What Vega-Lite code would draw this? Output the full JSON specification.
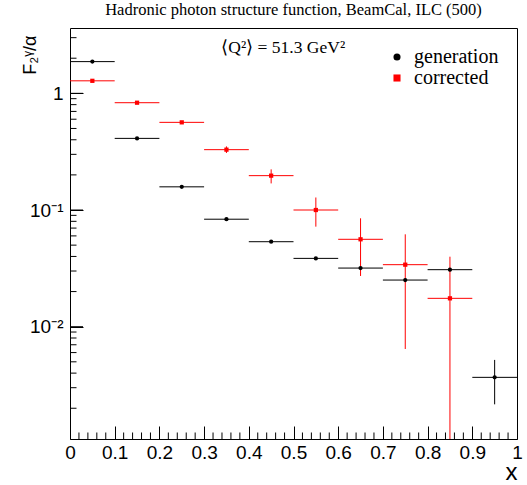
{
  "$schema": "https://vega.github.io/schema/vega-lite/v6.json",
  "width": 447,
  "height": 411,
  "autosize": {"type": "none"},
  "padding": {"left": 70, "top": 28, "right": 10, "bottom": 46},
  "background": "white",
  "config": {
    "view": {"stroke": "black", "strokeWidth": 1},
    "axis": {"grid": false, "domain": false, "ticks": true, "tickWidth": 1, "zindex": 1, "tickColor": "black", "labelColor": "black", "titleColor": "black", "labelOverlap": false, "labelFlush": false, "labelFont": "Liberation Sans", "labelFontSize": 19, "titleFont": "Liberation Sans", "titleFontWeight": "normal", "tickCount": 200}
  },
  "title": {
    "text": "Hadronic photon structure function, BeamCal, ILC (500)",
    "font": "Liberation Serif",
    "fontSize": 16.5,
    "fontWeight": "normal",
    "anchor": "middle",
    "offset": 10,
    "color": "black"
  },
  "resolve": {"axis": {"x": "independent", "y": "independent"}, "scale": {"x": "shared", "y": "shared"}},
  "data": {
    "values": [
      {"series": "generation", "x": 0.05, "xlo": 0.0, "xhi": 0.1, "y": 1.87, "ylo": 1.84, "yhi": 1.9},
      {"series": "generation", "x": 0.15, "xlo": 0.1, "xhi": 0.2, "y": 0.411, "ylo": 0.405, "yhi": 0.417},
      {"series": "generation", "x": 0.25, "xlo": 0.2, "xhi": 0.3, "y": 0.158, "ylo": 0.155, "yhi": 0.161},
      {"series": "generation", "x": 0.35, "xlo": 0.3, "xhi": 0.4, "y": 0.0834, "ylo": 0.0818, "yhi": 0.085},
      {"series": "generation", "x": 0.45, "xlo": 0.4, "xhi": 0.5, "y": 0.0535, "ylo": 0.0523, "yhi": 0.0547},
      {"series": "generation", "x": 0.55, "xlo": 0.5, "xhi": 0.6, "y": 0.0385, "ylo": 0.0375, "yhi": 0.0395},
      {"series": "generation", "x": 0.65, "xlo": 0.6, "xhi": 0.7, "y": 0.0318, "ylo": 0.0308, "yhi": 0.0328},
      {"series": "generation", "x": 0.75, "xlo": 0.7, "xhi": 0.8, "y": 0.0251, "ylo": 0.0242, "yhi": 0.026},
      {"series": "generation", "x": 0.85, "xlo": 0.8, "xhi": 0.9, "y": 0.0308, "ylo": 0.0297, "yhi": 0.0319},
      {"series": "generation", "x": 0.95, "xlo": 0.9, "xhi": 1.0, "y": 0.00368, "ylo": 0.00216, "yhi": 0.00519},
      {"series": "corrected", "x": 0.05, "xlo": 0.0, "xhi": 0.1, "y": 1.28, "ylo": 1.265, "yhi": 1.295},
      {"series": "corrected", "x": 0.15, "xlo": 0.1, "xhi": 0.2, "y": 0.831, "ylo": 0.82, "yhi": 0.842},
      {"series": "corrected", "x": 0.25, "xlo": 0.2, "xhi": 0.3, "y": 0.564, "ylo": 0.555, "yhi": 0.573},
      {"series": "corrected", "x": 0.35, "xlo": 0.3, "xhi": 0.4, "y": 0.329, "ylo": 0.308, "yhi": 0.351},
      {"series": "corrected", "x": 0.45, "xlo": 0.4, "xhi": 0.5, "y": 0.197, "ylo": 0.169, "yhi": 0.223},
      {"series": "corrected", "x": 0.55, "xlo": 0.5, "xhi": 0.6, "y": 0.1, "ylo": 0.072, "yhi": 0.128},
      {"series": "corrected", "x": 0.65, "xlo": 0.6, "xhi": 0.7, "y": 0.0561, "ylo": 0.0272, "yhi": 0.0849},
      {"series": "corrected", "x": 0.75, "xlo": 0.7, "xhi": 0.8, "y": 0.034, "ylo": 0.00644, "yhi": 0.0619},
      {"series": "corrected", "x": 0.85, "xlo": 0.8, "xhi": 0.9, "y": 0.0175, "ylo": 0.0001, "yhi": 0.0398}
    ]
  },
  "layer": [
    {
      "mark": {"type": "rule", "strokeWidth": 1, "clip": true},
      "encoding": {
        "x": {
          "field": "xlo",
          "type": "quantitative",
          "scale": {"domain": [0, 1], "nice": false, "zero": false},
          "axis": {
            "orient": "bottom",
            "values": [0, 0.1, 0.2, 0.3, 0.4, 0.5, 0.6, 0.7, 0.8, 0.9, 1],
            "tickSize": -13,
            "labelExpr": "format(datum.value, '.1~f')",
            "labelPadding": 17,
            "title": "x",
            "titleFontSize": 24,
            "titleAlign": "right",
            "titleBaseline": "alphabetic",
            "titleX": 447,
            "titleY": 40
          }
        },
        "x2": {"field": "xhi"},
        "y": {
          "field": "y",
          "type": "quantitative",
          "scale": {"type": "log", "domain": [0.00109, 3.63], "nice": false},
          "axis": {
            "orient": "left",
            "values": [0.01, 0.1, 1],
            "tickSize": -13,
            "labelExpr": "datum.value==1 ? '1' : (abs(datum.value-0.1)<1e-9 ? '10⁻¹' : '10⁻²')",
            "labelPadding": 20,
            "labelBaseline": "middle",
            "title": "F₂ᵞ/α",
            "titleFontSize": 18,
            "titleAlign": "right",
            "titleBaseline": "middle",
            "titleAngle": 270,
            "titleX": -40,
            "titleY": 7
          }
        },
        "color": {
          "field": "series",
          "type": "nominal",
          "title": null,
          "scale": {"domain": ["generation", "corrected"], "range": ["#000000", "#ff0000"]}
        }
      }
    },
    {
      "mark": {"type": "rule", "strokeWidth": 1, "clip": true},
      "encoding": {
        "x": {"field": "x", "type": "quantitative", "axis": null},
        "y": {"field": "ylo", "type": "quantitative", "axis": null},
        "y2": {"field": "yhi"},
        "color": {"field": "series", "type": "nominal", "title": null}
      }
    },
    {
      "data": {"values": [{"v": 0.01}, {"v": 0.1}, {"v": 1}]},
      "mark": {"type": "tick", "orient": "horizontal", "size": 26, "thickness": 1, "color": "black", "clip": true, "opacity": 1},
      "encoding": {
        "x": {"datum": 0, "type": "quantitative", "axis": null},
        "y": {"field": "v", "type": "quantitative", "axis": null}
      }
    },
    {
      "data": {"values": [{"v": 0.002}, {"v": 0.003}, {"v": 0.004}, {"v": 0.005}, {"v": 0.006}, {"v": 0.007}, {"v": 0.008}, {"v": 0.009}, {"v": 0.02}, {"v": 0.03}, {"v": 0.04}, {"v": 0.05}, {"v": 0.06}, {"v": 0.07}, {"v": 0.08}, {"v": 0.09}, {"v": 0.2}, {"v": 0.3}, {"v": 0.4}, {"v": 0.5}, {"v": 0.6}, {"v": 0.7}, {"v": 0.8}, {"v": 0.9}, {"v": 2}, {"v": 3}]},
      "mark": {"type": "tick", "orient": "horizontal", "size": 13, "thickness": 1, "color": "black", "clip": true, "opacity": 1},
      "encoding": {
        "x": {"datum": 0, "type": "quantitative", "axis": null},
        "y": {"field": "v", "type": "quantitative", "axis": null}
      }
    },
    {
      "data": {"values": [{"v": 0.02}, {"v": 0.04}, {"v": 0.06}, {"v": 0.08}, {"v": 0.12}, {"v": 0.14}, {"v": 0.16}, {"v": 0.18}, {"v": 0.22}, {"v": 0.24}, {"v": 0.26}, {"v": 0.28}, {"v": 0.32}, {"v": 0.34}, {"v": 0.36}, {"v": 0.38}, {"v": 0.42}, {"v": 0.44}, {"v": 0.46}, {"v": 0.48}, {"v": 0.52}, {"v": 0.54}, {"v": 0.56}, {"v": 0.58}, {"v": 0.62}, {"v": 0.64}, {"v": 0.66}, {"v": 0.68}, {"v": 0.72}, {"v": 0.74}, {"v": 0.76}, {"v": 0.78}, {"v": 0.82}, {"v": 0.84}, {"v": 0.86}, {"v": 0.88}, {"v": 0.92}, {"v": 0.94}, {"v": 0.96}, {"v": 0.98}]},
      "mark": {"type": "tick", "orient": "vertical", "size": 13, "thickness": 1, "color": "black", "clip": true, "opacity": 1},
      "encoding": {
        "x": {"field": "v", "type": "quantitative", "axis": null},
        "y": {"datum": 0.00109, "type": "quantitative", "axis": null}
      }
    },
    {
      "mark": {"type": "point", "filled": true, "opacity": 1, "size": 18},
      "encoding": {
        "x": {"field": "x", "type": "quantitative", "axis": null},
        "y": {"field": "y", "type": "quantitative", "axis": null},
        "color": {
          "field": "series",
          "type": "nominal",
          "title": null,
          "legend": {"orient": "none", "legendX": 317, "legendY": 19, "labelFont": "Liberation Serif", "labelFontSize": 20, "labelColor": "black", "symbolSize": 50, "symbolStrokeWidth": 0, "rowPadding": 1, "labelOffset": 7, "padding": 0}
        },
        "shape": {
          "field": "series",
          "type": "nominal",
          "title": null,
          "scale": {"domain": ["generation", "corrected"], "range": ["circle", "square"]},
          "legend": {"orient": "none", "legendX": 317, "legendY": 19, "labelFont": "Liberation Serif", "labelFontSize": 20, "labelColor": "black", "symbolSize": 50, "symbolStrokeWidth": 0, "rowPadding": 1, "labelOffset": 7, "padding": 0}
        }
      }
    },
    {
      "data": {"values": [{}]},
      "mark": {"type": "text", "font": "Liberation Serif", "fontSize": 17.5, "align": "center", "baseline": "alphabetic", "color": "black"},
      "encoding": {
        "x": {"datum": 0.477, "type": "quantitative", "axis": null},
        "y": {"datum": 2.2, "type": "quantitative", "axis": null},
        "text": {"value": "⟨Q²⟩ = 51.3 GeV²"}
      }
    }
  ]
}
